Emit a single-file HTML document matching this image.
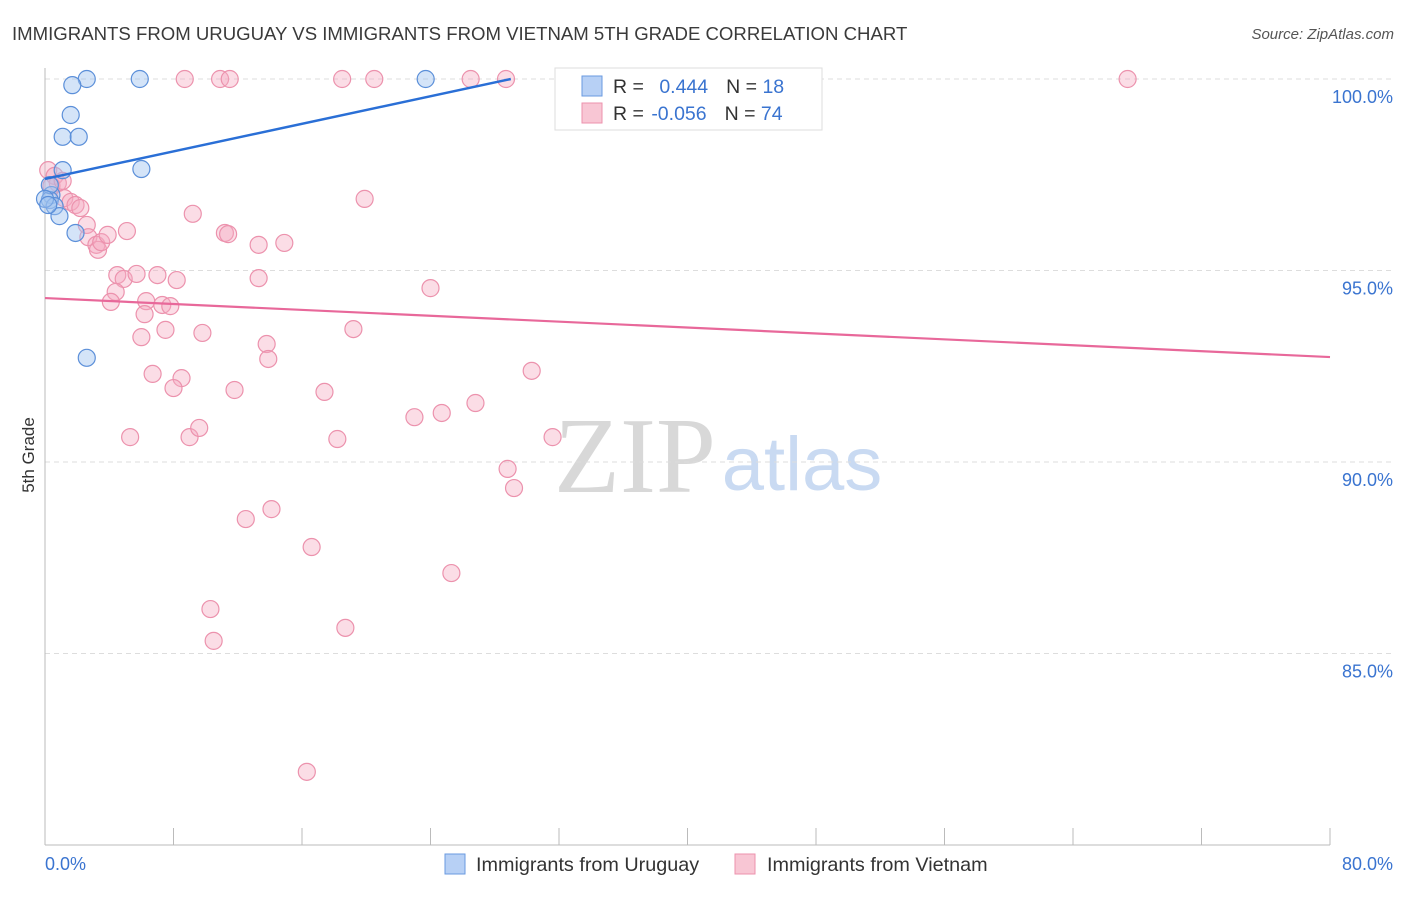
<!DOCTYPE html>
<html><head><meta charset="utf-8"><style>
body{margin:0;background:#fff;font-family:"Liberation Sans",sans-serif}
</style></head><body>
<svg width="1406" height="892" xmlns="http://www.w3.org/2000/svg" font-family="Liberation Sans, sans-serif">
<text x="12" y="40" font-size="18.6" fill="#3a3a3a">IMMIGRANTS FROM URUGUAY VS IMMIGRANTS FROM VIETNAM 5TH GRADE CORRELATION CHART</text>
<text x="1394" y="39" font-size="15" fill="#555" font-style="italic" text-anchor="end">Source: ZipAtlas.com</text>
<text x="34" y="455" font-size="17" fill="#333" transform="rotate(-90 34 455)" text-anchor="middle">5th Grade</text>
<g>
<text x="635" y="492" font-size="108" fill="#d8d8d8" font-family="Liberation Serif, serif" text-anchor="middle">ZIP</text>
<text x="802" y="490" font-size="76" fill="#c9daf2" text-anchor="middle">atlas</text>
</g>
<g id="grid"></g><g id="axes"></g><g id="pts"></g><g id="lines"></g>
<g>
<rect x="555" y="68" width="267" height="62" fill="#fff" stroke="#ddd"/>
<rect x="582" y="76" width="20" height="20" fill="#b7d0f5" stroke="#6a9ae0"/>
<rect x="582" y="103" width="20" height="20" fill="#f8c6d4" stroke="#ec92ad"/>
<text x="613" y="93" font-size="19.5" fill="#333">R = <tspan fill="#3a74d0" dx="10">0.444</tspan><tspan dx="18" fill="#333">N = </tspan><tspan fill="#3a74d0">18</tspan></text>
<text x="613" y="120" font-size="19.5" fill="#333">R = <tspan fill="#3a74d0" dx="2">-0.056</tspan><tspan dx="18" fill="#333">N = </tspan><tspan fill="#3a74d0">74</tspan></text>
</g>
<g>
<rect x="445" y="854" width="20" height="20" fill="#b7d0f5" stroke="#6a9ae0"/>
<text x="476" y="871" font-size="19.8" fill="#333">Immigrants from Uruguay</text>
<rect x="735" y="854" width="20" height="20" fill="#f8c6d4" stroke="#ec92ad"/>
<text x="767" y="871" font-size="19.8" fill="#333">Immigrants from Vietnam</text>
</g>
</svg>
<script>
const yTicks=[100,95,90,85];
const yTickLabels=["100.0%","95.0%","90.0%","85.0%"];
const xTickLabels=["0.0%","80.0%"];
const uruguayX=[2.6,5.9,23.7,1.7,1.6,1.1,2.1,1.1,6.0,0.4,0.3,0.6,0.9,1.9,2.6,0.3,0.0,0.2];
const uruguayY=[100,100,100,99.84,99.06,98.49,98.49,97.62,97.65,96.97,96.84,96.68,96.42,95.98,92.72,97.23,96.87,96.71];
const vietnamX=[8.7,10.9,11.5,18.5,20.5,26.5,28.7,43.3,67.4,0.2,0.6,0.8,0.4,1.1,1.2,1.6,1.9,2.2,2.6,2.7,3.2,3.3,3.5,3.9,5.1,9.2,11.2,11.4,13.3,14.9,19.9,4.5,4.9,5.7,7.0,8.2,13.3,24.0,4.4,4.1,6.3,6.2,7.3,7.8,6.0,7.5,9.8,13.8,13.9,19.2,6.7,8.5,8.0,11.8,17.4,30.3,23.0,24.7,26.8,5.3,9.0,9.6,18.2,31.6,28.8,29.2,12.5,14.1,16.6,25.3,10.3,10.5,18.7,16.3];
const vietnamY=[100,100,100,100,100,100,100,100,100,97.62,97.47,97.28,97.21,97.34,96.89,96.79,96.71,96.63,96.19,95.87,95.67,95.54,95.74,95.93,96.03,96.48,95.98,95.95,95.67,95.72,96.87,94.88,94.78,94.91,94.88,94.75,94.80,94.54,94.44,94.18,94.20,93.86,94.10,94.07,93.26,93.45,93.37,93.08,92.69,93.47,92.30,92.19,91.93,91.88,91.83,92.38,91.17,91.28,91.54,90.65,90.65,90.89,90.60,90.65,89.82,89.32,88.51,88.77,87.78,87.10,86.16,85.33,85.67,81.91];
const uruguayTrend=[[0,97.39],[29.0,100]];
const vietnamTrend=[[0,94.28],[80,92.74]];
const NS="http://www.w3.org/2000/svg";
const sx=v=>45+v*(1285/80);
const sy=v=>79+(100-v)*38.3;
function mk(tag,attrs,parent){const e=document.createElementNS(NS,tag);for(const k in attrs)e.setAttribute(k,attrs[k]);document.getElementById(parent).appendChild(e);return e;}
yTicks.forEach((t,i)=>{
 const g=mk('line',{x1:45,x2:1393,y1:sy(t),y2:sy(t),stroke:'#ddd','stroke-dasharray':'5,4'},'grid');
 
 
 const l=mk('text',{x:1393,y:sy(t)+24,'font-size':18,fill:'#3a74d0','text-anchor':'end'},'grid');
 l.textContent=yTickLabels[i];
 
 
});
mk('line',{x1:45,x2:45,y1:68,y2:845,stroke:'#bbb'},'axes');
mk('line',{x1:45,x2:1330,y1:845,y2:845,stroke:'#bbb'},'axes');
for(let i=0;i<=10;i++){mk('line',{x1:sx(i*8),x2:sx(i*8),y1:828,y2:845,stroke:'#bbb'},'axes');}
const xl0=mk('text',{x:45,y:870,'font-size':18,fill:'#3a74d0'},'axes');xl0.textContent=xTickLabels[0];


const xl1=mk('text',{x:1393,y:870,'font-size':18,fill:'#3a74d0','text-anchor':'end'},'axes');xl1.textContent=xTickLabels[1];


vietnamX.forEach((x,i)=>{
 const c=mk('circle',{cx:sx(x),cy:sy(vietnamY[i]),r:8.5,fill:'rgba(244,170,193,0.4)',stroke:'#ec92ad','stroke-width':1.2},'pts');
 
 
});
uruguayX.forEach((x,i)=>{
 const c=mk('circle',{cx:sx(x),cy:sy(uruguayY[i]),r:8.5,fill:'rgba(160,195,240,0.45)',stroke:'#5b8fd9','stroke-width':1.2},'pts');
 
 
});
const t1=mk('line',{x1:sx(uruguayTrend[0][0]),y1:sy(uruguayTrend[0][1]),x2:sx(uruguayTrend[1][0]),y2:sy(uruguayTrend[1][1]),stroke:'#2a6fd6','stroke-width':2.5},'lines');


const t2=mk('line',{x1:sx(vietnamTrend[0][0]),y1:sy(vietnamTrend[0][1]),x2:sx(vietnamTrend[1][0]),y2:sy(vietnamTrend[1][1]),stroke:'#e8689a','stroke-width':2.2},'lines');


</script>
</body></html>
